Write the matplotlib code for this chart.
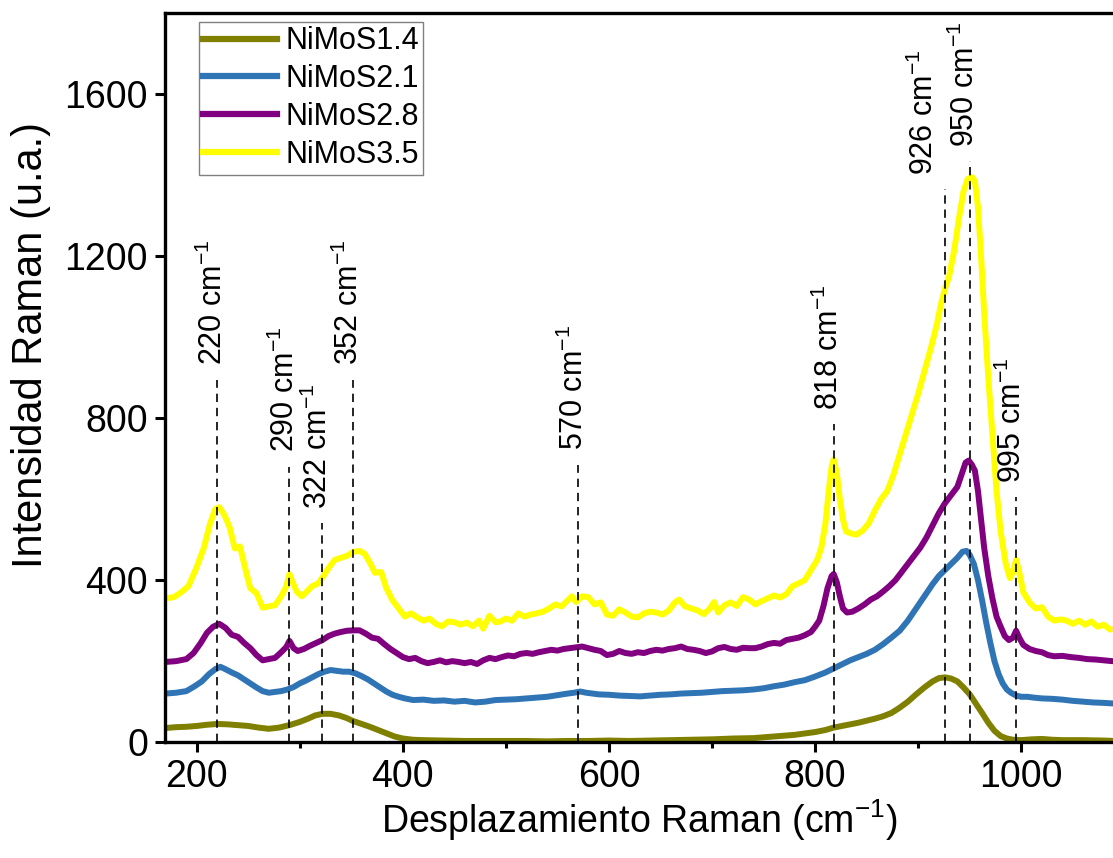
import numpy as np
import matplotlib
matplotlib.use("Agg")
import matplotlib.pyplot as plt
from matplotlib.ticker import MultipleLocator

plt.rcParams['font.family'] = ['Liberation Sans', 'DejaVu Sans']
plt.rcParams['mathtext.fontset'] = 'custom'
plt.rcParams['mathtext.rm'] = 'Liberation Sans'
plt.rcParams['mathtext.it'] = 'Liberation Sans:italic'
plt.rcParams['mathtext.bf'] = 'Liberation Sans:bold'

# ---- data ----
labels = ['NiMoS1.4', 'NiMoS2.1', 'NiMoS2.8', 'NiMoS3.5']
colors = ['#808000', '#2f74b5', '#800080', '#ffff00']

x_14 = [170, 180, 190, 200, 210, 220, 230, 240, 250, 260, 270, 280, 290, 300, 308, 315, 322, 330, 338, 345,
        352, 360, 368, 376, 384, 392, 400, 410, 420, 440, 460, 480, 500, 520, 540, 560, 580, 600, 620, 640,
        660, 680, 700, 720, 740, 760, 780, 800, 810, 818, 826, 834, 842, 850, 858, 866, 874, 882, 890, 898,
        906, 914, 920, 926, 932, 938, 944, 950, 956, 962, 968, 974, 980, 986, 992, 1000, 1010, 1020, 1030,
        1040, 1060, 1080, 1092]
y_14 = [35, 37, 38, 40, 43, 45, 44, 42, 40, 36, 33, 36, 42, 50, 58, 66, 70, 70, 66, 60,
        52, 45, 38, 30, 22, 14, 9, 6, 5, 4, 3, 3, 3, 3, 2, 3, 3, 4, 3, 4,
        5, 6, 7, 9, 10, 14, 18, 25, 30, 36, 40, 44, 48, 53, 58, 64, 72, 85, 100, 118,
        135, 150, 158, 160, 157, 150, 135, 118, 95, 72, 48, 28, 15, 9, 6, 5, 7, 8, 6,
        5, 5, 4, 3]

x_21 = [170, 180, 190, 198, 205, 212, 218, 223, 228, 234, 240, 246, 252, 258, 264, 270, 276, 282, 288, 294,
        300, 306, 312, 318, 324, 330, 336, 342, 348, 354, 360, 366, 372, 378, 384, 390, 396, 402, 410, 420,
        430, 440, 450, 460, 470, 480, 490, 500, 510, 520, 530, 540, 550, 560, 566, 572, 578, 584, 590, 600,
        610, 620, 630, 640, 650, 660, 670, 680, 690, 700, 710, 720, 730, 740, 750, 760, 770, 780, 790, 800,
        810, 818, 826, 834, 842, 850, 858, 866, 874, 882, 890, 898, 906, 914, 920, 926, 932, 938, 943, 947,
        950, 954, 958, 962, 966, 970, 974, 978, 982, 986, 990, 995, 1000, 1006, 1012, 1020, 1030, 1040,
        1050, 1060, 1070, 1080, 1092]
y_21 = [120, 122, 126, 138, 150, 168, 180, 186, 180, 172, 165, 155, 145, 135, 126, 122, 124, 126, 130, 136,
        145, 152, 160, 168, 174, 178, 176, 174, 174, 170, 163, 155, 145, 135, 125, 117, 112, 108, 104, 105,
        102, 103, 100, 102, 98, 100, 104, 105, 106, 108, 110, 112, 116, 120, 122, 125, 122, 120, 118, 117,
        115, 114, 113, 115, 117, 118, 120, 121, 122, 124, 126, 127, 128, 130, 133, 138, 142, 148, 153, 162,
        172, 182, 192, 202, 210, 218, 228, 242, 258, 275, 300, 330, 360, 390, 410, 425, 440, 455, 470, 472,
        462, 440, 400, 350, 295, 245, 200, 168, 145, 130, 122, 115, 112, 112, 110, 108, 107, 105,
        102, 100, 98, 97, 95]

x_28 = [170, 180, 190, 197, 204, 210, 216, 222, 228, 234, 240, 246, 252, 258, 264, 270, 276, 282, 287, 290,
        294, 298, 304, 310, 316, 322, 328, 334, 340, 346, 352, 358, 364, 370, 376, 382, 388, 394, 400, 406,
        412, 418, 424, 430, 436, 442, 448, 454, 460, 466, 472, 478, 484, 490, 496, 502, 508, 514, 520, 526,
        532, 538, 544, 550, 556, 562, 568, 574, 580, 586, 592, 598, 604, 610, 616, 622, 628, 634, 640, 646,
        652, 658, 664, 670, 676, 682, 688, 694, 700, 706, 712, 718, 724, 730, 736, 742, 748, 754, 760, 766,
        772, 778, 784, 790, 796, 800, 804, 808, 812, 816, 818, 821, 824, 827, 831, 836, 842, 848, 854, 860,
        866, 872, 878, 884, 890, 896, 902, 908, 914, 920, 926, 932, 938, 942, 946, 949, 952, 955, 958, 961,
        964, 968, 972, 976, 980, 984, 988, 992, 995, 998, 1002, 1008, 1014, 1020, 1026, 1032, 1040, 1048,
        1056, 1064, 1072, 1080, 1088, 1092]
y_28 = [198, 200, 205, 220, 245, 270, 285, 292, 282, 265, 260, 245, 232, 215, 202, 205, 208, 222, 235, 250,
        232, 225, 230, 238, 245, 252, 262, 268, 272, 275, 276, 276, 268, 258, 255, 242, 230, 220, 210, 205,
        208, 200, 195, 198, 202, 197, 200, 198, 195, 198, 193, 202, 208, 205, 210, 214, 212, 218, 220, 218,
        222, 225, 228, 226, 230, 232, 234, 236, 232, 228, 225, 215, 218, 225, 220, 218, 222, 220, 225, 228,
        226, 230, 232, 236, 230, 228, 225, 220, 224, 232, 235, 230, 228, 233, 232, 232, 236, 242, 245, 243,
        252, 255, 258, 264, 272, 285, 300, 335, 380, 410, 415, 395, 360, 330, 320, 322, 330, 340, 352, 360,
        372, 385, 400, 420, 440, 460, 480, 505, 535, 565, 590, 610, 630, 660, 690, 695, 685, 670, 620, 550,
        480, 410, 355, 310, 285, 262, 252, 258, 275, 258, 240, 230, 225, 222, 215, 212, 213, 210,
        208, 205, 204, 202, 200, 200]

x_35 = [170, 178, 185, 192, 200, 207, 213, 218, 222, 227, 232, 237, 242, 247, 252, 258, 264, 270, 276, 282,
        287, 290, 293, 297, 302, 307, 312, 318, 323, 328, 334, 340, 346, 352, 358, 363, 368, 373, 379, 384,
        390, 396, 402, 408, 414, 420, 426, 432, 438, 444, 450, 456, 462, 468, 474, 478, 484, 490, 495, 500,
        506, 512, 518, 524, 530, 536, 542, 548, 554, 560, 564, 568, 574, 580, 586, 592, 598, 604, 610, 616,
        622, 628, 634, 640, 646, 652, 658, 664, 668, 674, 680, 686, 692, 698, 702, 706, 712, 718, 724, 730,
        736, 742, 748, 754, 760, 766, 772, 778, 784, 790, 796, 802, 806, 810, 813, 816, 818, 821, 824, 827,
        830, 835, 840, 846, 852, 858, 864, 870, 876, 882, 888, 894, 900, 906, 912, 918, 922, 926, 930, 935,
        940, 944, 948, 952, 955, 958, 961, 964, 968, 972, 976, 980, 985, 989, 992, 995, 998, 1002, 1008,
        1014, 1020, 1026, 1032, 1038, 1044, 1050, 1056, 1062, 1068, 1074, 1080, 1086, 1092]
y_35 = [355, 358, 370, 385, 432, 480, 540, 575, 580, 560, 530, 478, 483, 430, 380, 368, 332, 335, 338, 360,
        385, 415, 395, 372, 360, 372, 385, 392, 410, 430, 450, 455, 460, 470, 472, 465, 443, 418, 420, 380,
        350, 330, 310, 318, 308, 300, 305, 292, 286, 298, 296, 290, 295, 286, 300, 280, 312, 296, 298, 305,
        300, 318, 310, 315, 318, 322, 330, 340, 335, 350, 360, 346, 360, 358, 340, 345, 315, 312, 328, 320,
        310, 308, 318, 322, 320, 315, 325, 345, 352, 335, 330, 325, 316, 330, 346, 320, 338, 345, 336, 358,
        352, 340, 348, 355, 362, 357, 365, 385, 392, 400, 425, 450, 480, 540, 615, 680, 698, 665, 600, 550,
        520, 515, 512, 522, 540, 572, 600, 620, 660, 710, 760, 810, 860, 915, 970, 1030, 1080, 1120, 1150, 1215,
        1300, 1360, 1390, 1395, 1385, 1320, 1200, 1060, 900, 760, 620, 520, 440, 405, 420, 450, 420, 370, 345,
        330, 333, 310, 300, 303, 300, 292, 300, 290, 298, 285, 290, 278, 280]

series_x = [x_14, x_21, x_28, x_35]
series_y = [y_14, y_21, y_28, y_35]

# peak markers: position, top of dashed line
peak_pos = [220, 290, 322, 352, 570, 818, 926, 950, 995]
peak_top = [895, 680, 540, 895, 685, 785, 1365, 1435, 605]
# label nudges (data units) so the two close labels do not collide
label_dx = [-4, -4, -4, -4, -4, -4, -20, -4, -4]

fig = plt.figure(figsize=(11.13, 8.58), dpi=100)
ax = fig.add_axes([0.148, 0.135, 0.852, 0.85])

for xs, ys, c, lab in zip(series_x, series_y, colors, labels):
    ax.plot(xs, ys, color=c, lw=4.3, label=lab, solid_joinstyle='round')

ax.vlines(peak_pos, 0, peak_top, colors='black', linestyles=(0, (5, 3.5)), lw=1.2, zorder=5)
for p, t, dx in zip(peak_pos, peak_top, label_dx):
    ax.text(p + dx, t + 35, f'{p} cm$^{{-1}}$', rotation=90, ha='center', va='bottom', fontsize=22)

ax.set_xlim(169, 1089)
ax.set_ylim(0, 1800)
ax.xaxis.set_major_locator(MultipleLocator(200))
ax.xaxis.set_minor_locator(MultipleLocator(100))
ax.yaxis.set_major_locator(MultipleLocator(400))

for s in ['left', 'bottom', 'top']:
    ax.spines[s].set_linewidth(2.4)
ax.spines['right'].set_visible(False)
ax.tick_params(axis='both', which='major', direction='out', length=7, width=2.2, labelsize=27, pad=5)
ax.tick_params(axis='x', which='minor', direction='out', length=4, width=2.2)
ax.tick_params(top=False, right=False)

ax.set_xlabel('Desplazamiento Raman (cm$^{-1}$)', fontsize=27, labelpad=2)
ax.set_ylabel('Intensidad Raman (u.a.)', fontsize=30)
ax.yaxis.set_label_coords(-0.12, 0.545)

leg = ax.legend(loc='upper left', bbox_to_anchor=(0.036, 0.988), borderaxespad=0, fontsize=22,
                handlelength=2.4, handletextpad=0.27, labelspacing=0.26, borderpad=0.15,
                fancybox=False, framealpha=1, edgecolor='#808080')
leg.get_frame().set_linewidth(1.0)
for h in leg.get_lines():
    h.set_linewidth(4.5)

fig.savefig('out.png', dpi=100)
